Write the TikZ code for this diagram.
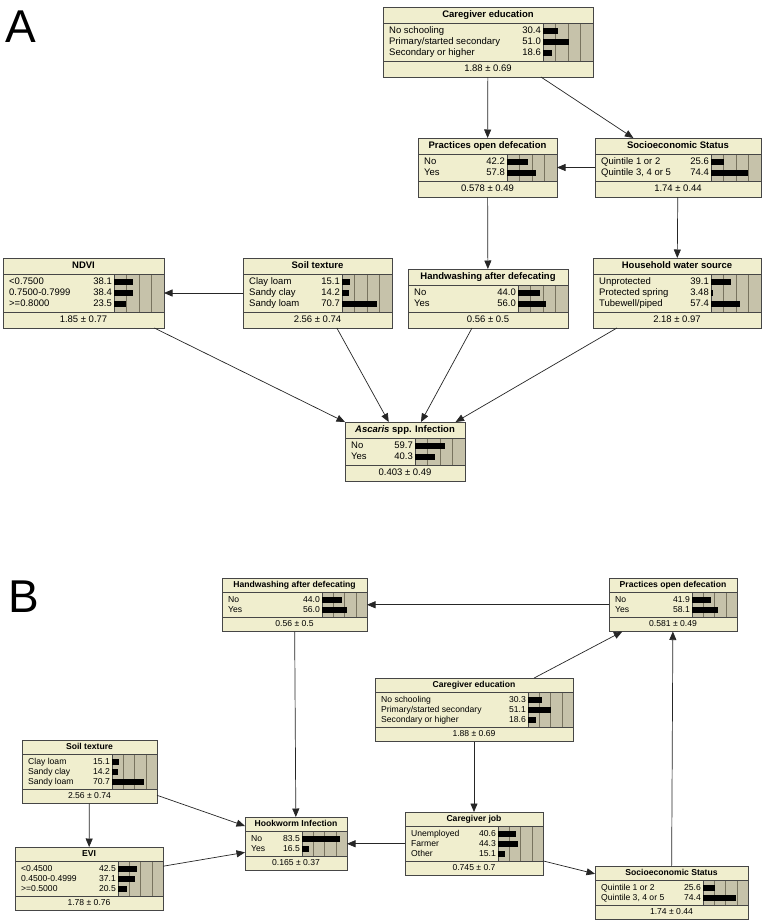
\documentclass[tikz,border=0pt]{standalone}
\usepackage{fontspec}
\setmainfont{Liberation Sans}
\usetikzlibrary{arrows.meta,calc}
\definecolor{nodecream}{RGB}{240,238,206}
\definecolor{barbg}{RGB}{198,194,170}
\definecolor{gridc}{RGB}{120,115,95}
\definecolor{edgec}{RGB}{70,70,70}
\newcommand\bnfont{\fontsize{9.5}{11}\selectfont}
\newcommand\panelAset{\def\TH{16}\def\RH{11}\def\PD{2.5}\def\FH{16}\def\BW{50}\def\BH{3.2}\renewcommand\bnfont{\fontsize{9.5}{11}\selectfont}}
\newcommand\panelBset{\def\TH{14}\def\RH{10}\def\PD{2.5}\def\FH{14.5}\def\BW{45}\def\BH{3}\renewcommand\bnfont{\fontsize{8.6}{10}\selectfont}}
\tikzset{
  bnframe/.style={draw=edgec, line width=0.8pt, fill=nodecream, inner sep=0pt, outer sep=0pt, anchor=north west},
  bntitle/.style={font=\bnfont\bfseries, inner sep=0pt, text height=0.72em, text depth=0.2em},
  bnlabel/.style={font=\bnfont, inner sep=0pt, anchor=west, text height=0.72em, text depth=0.2em},
  bnvalue/.style={font=\bnfont, inner sep=0pt, anchor=east, text height=0.72em, text depth=0.2em},
  bnfoot/.style={font=\bnfont, inner sep=0pt, text height=0.72em, text depth=0.2em},
  arr/.style={draw=black!85, line width=0.7pt, -{Triangle[length=8.5pt,width=7pt]}},
  panellabel/.style={font=\fontsize{46}{46}\selectfont, inner sep=0pt, anchor=base west},
}
% #1 name, #2 x, #3 y, #4 w, #5 nrows, #6 title, #7 footer
\newcommand\bnnode[7]{%
  \pgfmathsetmacro\bnX{#2}%
  \pgfmathsetmacro\bnY{#3}%
  \pgfmathsetmacro\bnW{#4}%
  \pgfmathsetmacro\bnBody{#5*\RH+2*\PD}%
  \pgfmathsetmacro\bnH{\TH+\bnBody+\FH}%
  \pgfmathsetmacro\bnBx{\bnX+\bnW-\BW}%
  \pgfmathsetmacro\bnR{\bnX+\bnW}%
  \pgfmathsetmacro\bnYt{\bnY+\TH}%
  \pgfmathsetmacro\bnYb{\bnY+\TH+\bnBody}%
  \node[bnframe, minimum width=\bnW pt, minimum height=\bnH pt] (#1) at (\bnX,\bnY) {};
  \fill[barbg] (\bnBx,\bnYt) rectangle (\bnR,\bnYb);
  \foreach \f in {0.25,0.5,0.75} {\draw[gridc, line width=0.5pt] (\bnBx+\f*\BW,\bnYt) -- (\bnBx+\f*\BW,\bnYb);}
  \draw[edgec, line width=0.6pt] (\bnBx,\bnYt) -- (\bnBx,\bnYb);
  \draw[edgec, line width=0.7pt] (\bnX,\bnYt) -- (\bnR,\bnYt) (\bnX,\bnYb) -- (\bnR,\bnYb);
  \draw[edgec, line width=0.8pt] (#1.north west) rectangle (#1.south east);
  \node[bntitle] (#1-t) at (\bnX+\bnW/2,\bnY+\TH/2) {#6};
  \node[bnfoot] (#1-f) at (\bnX+\bnW/2,\bnYb+\FH/2) {#7};
  \def\bnname{#1}%
}
% #1 index, #2 label, #3 value
\newcommand\bnrow[3]{%
  \pgfmathsetmacro\bnRy{\bnYt+\PD+(#1-0.5)*\RH}%
  \node[bnlabel] (\bnname-l#1) at (\bnX+6,\bnRy) {#2};
  \node[bnvalue] (\bnname-v#1) at (\bnBx-2,\bnRy) {#3};
  \fill[black] (\bnBx,\bnRy-\BH) rectangle (\bnBx+#3*\BW/100,\bnRy+\BH);
}
\begin{document}
\begin{tikzpicture}[x=1pt,y=-1pt]
\useasboundingbox (0,0) rectangle (767,924);
\fill[white] (0,0) rectangle (767,924);
% ---------------- Panel A ----------------
\node[panellabel] (labA) at (5,42) {A};
\panelAset
\bnnode{cea}{383}{7}{210}{3}{Caregiver education}{1.88 ± 0.69}
\bnrow{1}{No schooling}{30.4}
\bnrow{2}{Primary/started secondary}{51.0}
\bnrow{3}{Secondary or higher}{18.6}
\bnnode{poda}{418}{138}{139}{2}{Practices open defecation}{0.578 ± 0.49}
\bnrow{1}{No}{42.2}
\bnrow{2}{Yes}{57.8}
\bnnode{sesa}{595}{138}{166}{2}{Socioeconomic Status}{1.74 ± 0.44}
\bnrow{1}{Quintile 1 or 2}{25.6}
\bnrow{2}{Quintile 3, 4 or 5}{74.4}
\bnnode{ndvi}{3}{258}{161}{3}{NDVI}{1.85 ± 0.77}
\bnrow{1}{<0.7500}{38.1}
\bnrow{2}{0.7500-0.7999}{38.4}
\bnrow{3}{>=0.8000}{23.5}
\bnnode{soila}{243}{258}{149}{3}{Soil texture}{2.56 ± 0.74}
\bnrow{1}{Clay loam}{15.1}
\bnrow{2}{Sandy clay}{14.2}
\bnrow{3}{Sandy loam}{70.7}
\bnnode{hwa}{408}{269}{160}{2}{Handwashing after defecating}{0.56 ± 0.5}
\bnrow{1}{No}{44.0}
\bnrow{2}{Yes}{56.0}
\bnnode{watera}{593}{258}{168}{3}{Household water source}{2.18 ± 0.97}
\bnrow{1}{Unprotected}{39.1}
\bnrow{2}{Protected spring}{3.48}
\bnrow{3}{Tubewell/piped}{57.4}
\bnnode{asc}{345}{422}{120}{2}{{\itshape Ascaris} spp. Infection}{0.403 ± 0.49}
\bnrow{1}{No}{59.7}
\bnrow{2}{Yes}{40.3}
\draw[arr] (cea) -- (poda);
\draw[arr] (cea) -- (sesa);
\draw[arr] (sesa) -- (poda);
\draw[arr] (poda) -- (hwa);
\draw[arr] (sesa) -- (watera);
\draw[arr] (soila) -- (ndvi);
\draw[arr] (ndvi) -- (asc);
\draw[arr] (soila) -- (asc);
\draw[arr] (hwa) -- (asc);
\draw[arr] (watera) -- (asc);
% ---------------- Panel B ----------------
\node[panellabel] (labB) at (8,612) {B};
\panelBset
\bnnode{hwb}{222}{578}{145}{2}{Handwashing after defecating}{0.56 ± 0.5}
\bnrow{1}{No}{44.0}
\bnrow{2}{Yes}{56.0}
\bnnode{podb}{609}{578}{128}{2}{Practices open defecation}{0.581 ± 0.49}
\bnrow{1}{No}{41.9}
\bnrow{2}{Yes}{58.1}
\bnnode{ceb}{375}{678}{198}{3}{Caregiver education}{1.88 ± 0.69}
\bnrow{1}{No schooling}{30.3}
\bnrow{2}{Primary/started secondary}{51.1}
\bnrow{3}{Secondary or higher}{18.6}
\bnnode{soilb}{22}{740}{135}{3}{Soil texture}{2.56 ± 0.74}
\bnrow{1}{Clay loam}{15.1}
\bnrow{2}{Sandy clay}{14.2}
\bnrow{3}{Sandy loam}{70.7}
\bnnode{evi}{15}{847}{148}{3}{EVI}{1.78 ± 0.76}
\bnrow{1}{<0.4500}{42.5}
\bnrow{2}{0.4500-0.4999}{37.1}
\bnrow{3}{>=0.5000}{20.5}
\bnnode{hook}{245}{817}{102}{2}{Hookworm Infection}{0.165 ± 0.37}
\bnrow{1}{No}{83.5}
\bnrow{2}{Yes}{16.5}
\bnnode{job}{405}{812}{138}{3}{Caregiver job}{0.745 ± 0.7}
\bnrow{1}{Unemployed}{40.6}
\bnrow{2}{Farmer}{44.3}
\bnrow{3}{Other}{15.1}
\bnnode{sesb}{595}{866}{153}{2}{Socioeconomic Status}{1.74 ± 0.44}
\bnrow{1}{Quintile 1 or 2}{25.6}
\bnrow{2}{Quintile 3, 4 or 5}{74.4}
\draw[arr] (podb) -- (hwb);
\draw[arr] (hwb) -- (hook);
\draw[arr] (ceb) -- (podb);
\draw[arr] (ceb) -- (job);
\draw[arr] (soilb) -- (evi);
\draw[arr] (soilb) -- (hook);
\draw[arr] (evi) -- (hook);
\draw[arr] (job) -- (hook);
\draw[arr] (job) -- (sesb);
\draw[arr] (sesb) -- (podb);
\end{tikzpicture}
\end{document}
